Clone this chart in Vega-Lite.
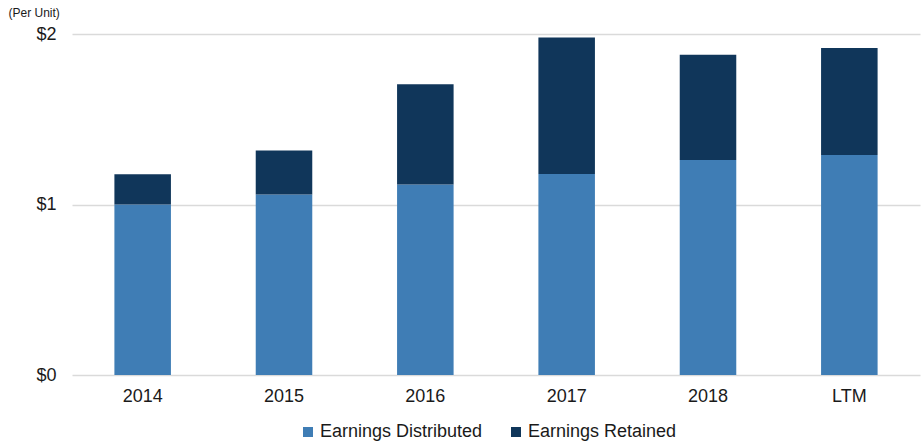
{
  "$schema": "https://vega.github.io/schema/vega-lite/v6.json",
  "width": 848,
  "height": 341,
  "autosize": {"type": "none"},
  "padding": {"left": 72, "top": 34, "right": 2, "bottom": 69},
  "background": "#ffffff",
  "config": {
    "font": "Liberation Sans",
    "view": {"stroke": null}
  },
  "data": {
    "values": [
      {"period": "2014", "type": "Earnings Distributed", "value": 1.0, "ord": 1},
      {"period": "2014", "type": "Earnings Retained", "value": 0.177, "ord": 2},
      {"period": "2015", "type": "Earnings Distributed", "value": 1.058, "ord": 1},
      {"period": "2015", "type": "Earnings Retained", "value": 0.258, "ord": 2},
      {"period": "2016", "type": "Earnings Distributed", "value": 1.117, "ord": 1},
      {"period": "2016", "type": "Earnings Retained", "value": 0.588, "ord": 2},
      {"period": "2017", "type": "Earnings Distributed", "value": 1.179, "ord": 1},
      {"period": "2017", "type": "Earnings Retained", "value": 0.801, "ord": 2},
      {"period": "2018", "type": "Earnings Distributed", "value": 1.261, "ord": 1},
      {"period": "2018", "type": "Earnings Retained", "value": 0.618, "ord": 2},
      {"period": "LTM", "type": "Earnings Distributed", "value": 1.29, "ord": 1},
      {"period": "LTM", "type": "Earnings Retained", "value": 0.628, "ord": 2}
    ]
  },
  "mark": {"type": "bar"},
  "encoding": {
    "x": {
      "field": "period",
      "type": "nominal",
      "sort": null,
      "scale": {"paddingInner": 0.6, "paddingOuter": 0.3},
      "axis": {
        "title": null,
        "labelAngle": 0,
        "labelFontSize": 18,
        "labelColor": "#1a1a1a",
        "labelPadding": 12,
        "ticks": false,
        "domain": false
      }
    },
    "y": {
      "field": "value",
      "type": "quantitative",
      "stack": "zero",
      "scale": {"domain": [0, 2]},
      "axis": {
        "values": [0, 1, 2],
        "labelExpr": "'$' + datum.value",
        "labelFontSize": 18,
        "labelColor": "#1a1a1a",
        "labelPadding": 16,
        "ticks": false,
        "domain": false,
        "grid": true,
        "gridColor": "#dadada",
        "gridWidth": 1.5,
        "title": "(Per Unit)",
        "titleAngle": 0,
        "titleX": -64,
        "titleY": -22,
        "titleAlign": "left",
        "titleBaseline": "middle",
        "titleFontSize": 12,
        "titleFontWeight": "normal",
        "titleColor": "#1a1a1a"
      }
    },
    "color": {
      "field": "type",
      "type": "nominal",
      "scale": {
        "domain": ["Earnings Distributed", "Earnings Retained"],
        "range": ["#3f7db5", "#10365a"]
      },
      "legend": {
        "title": null,
        "orient": "none",
        "direction": "horizontal",
        "legendX": 227,
        "legendY": 389,
        "symbolType": "square",
        "symbolSize": 100,
        "symbolStrokeWidth": 0,
        "labelFontSize": 18,
        "labelLimit": 400,
        "labelColor": "#1a1a1a",
        "labelOffset": 3,
        "columnPadding": 24
      }
    },
    "order": {"field": "ord", "type": "quantitative"}
  }
}
